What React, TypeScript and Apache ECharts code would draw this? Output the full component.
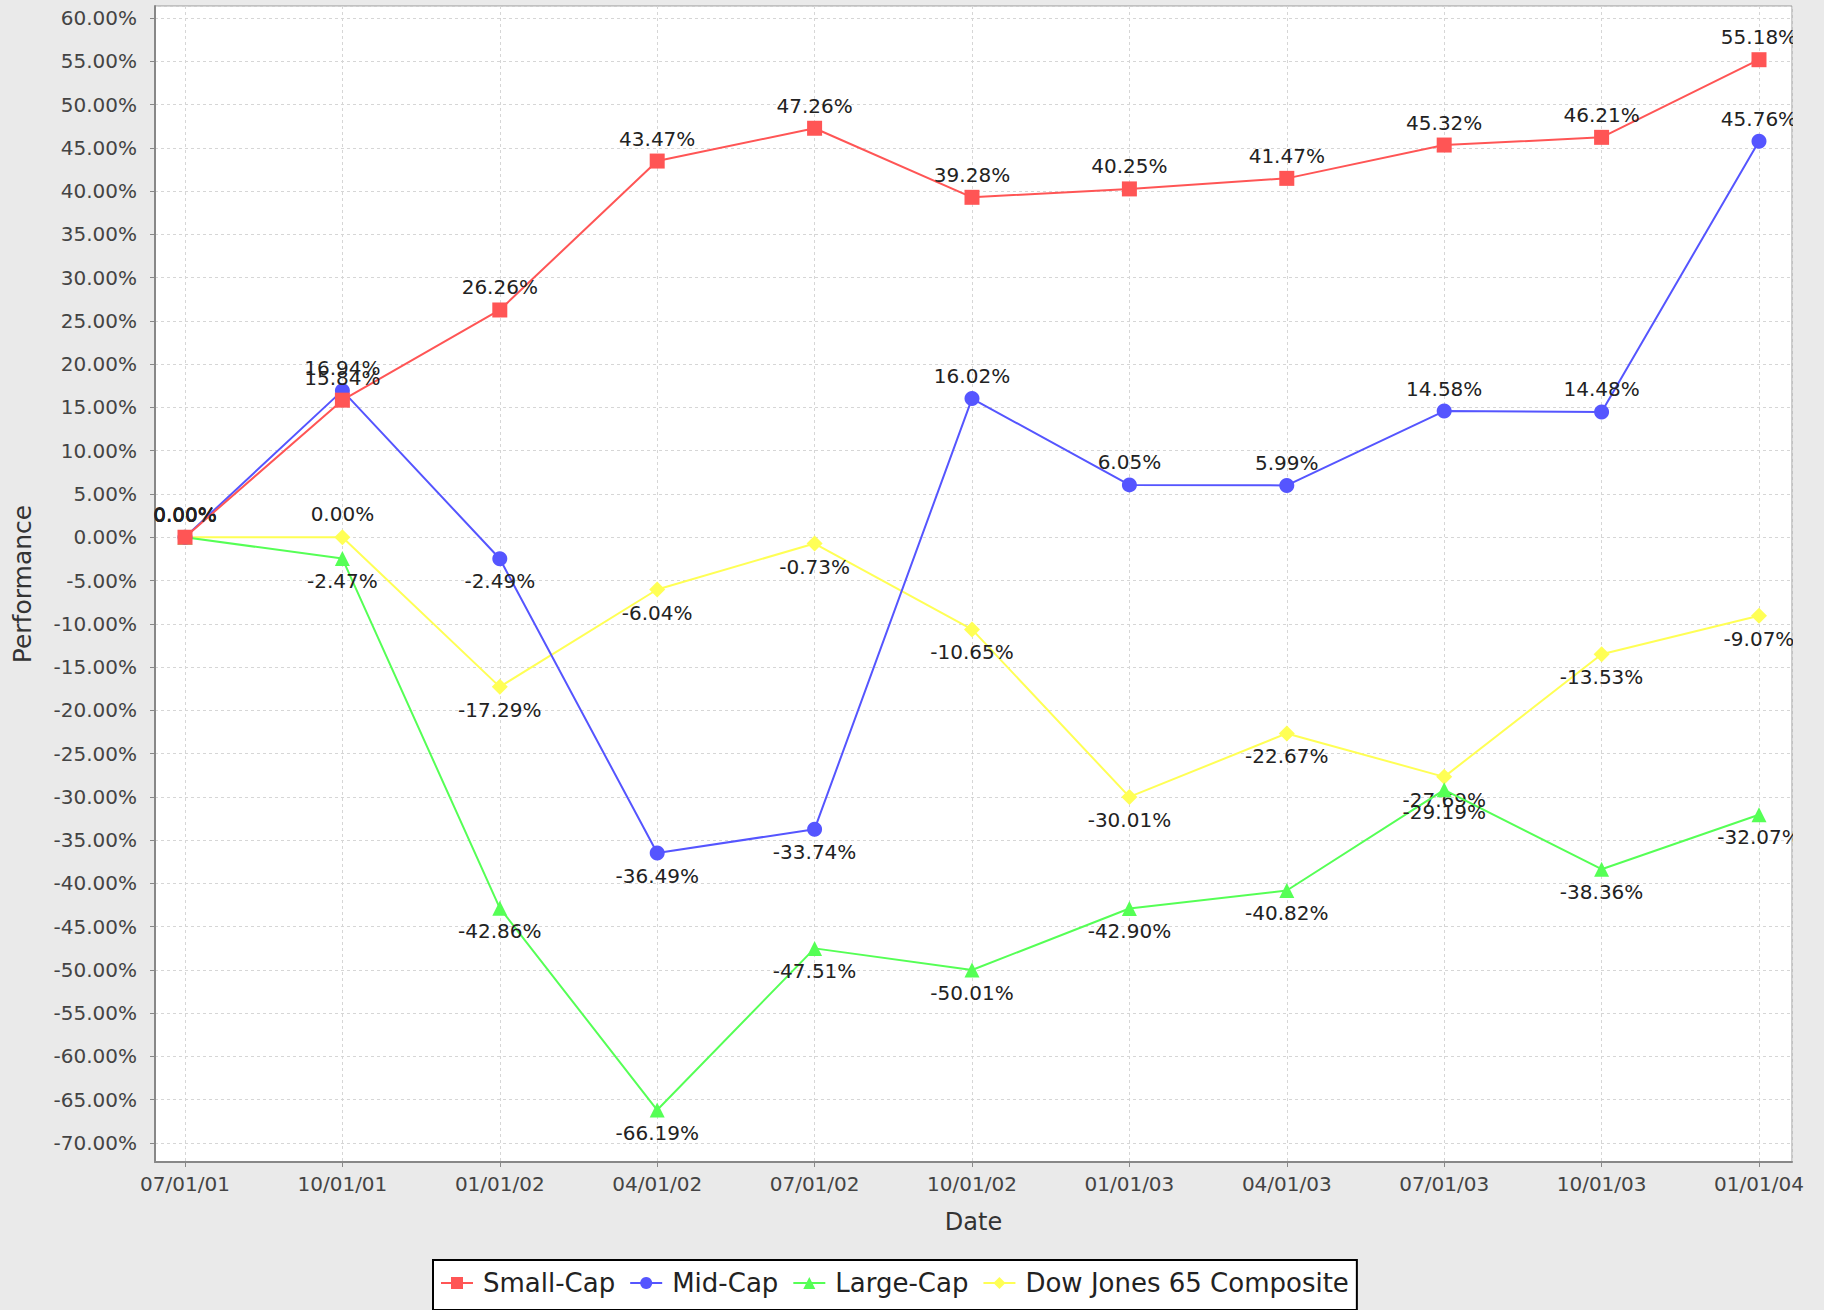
import React, { useEffect, useRef } from "react";
import * as echarts from "echarts";

const dates = ["07/01/01", "10/01/01", "01/01/02", "04/01/02", "07/01/02", "10/01/02", "01/01/03", "04/01/03", "07/01/03", "10/01/03", "01/01/04"];
const smallCap = [0.0, 15.84, 26.26, 43.47, 47.26, 39.28, 40.25, 41.47, 45.32, 46.21, 55.18];
const midCap = [0.0, 16.94, -2.49, -36.49, -33.74, 16.02, 6.05, 5.99, 14.58, 14.48, 45.76];
const largeCap = [0.0, -2.47, -42.86, -66.19, -47.51, -50.01, -42.9, -40.82, -29.19, -38.36, -32.07];
const dowJones = [0.0, 0.0, -17.29, -6.04, -0.73, -10.65, -30.01, -22.67, -27.69, -13.53, -9.07];
const seriesNames = ["Small-Cap", "Mid-Cap", "Large-Cap", "Dow Jones 65 Composite"];

const FONT = "DejaVu Sans";
const BG = "#EAEAEA";

export default function App() {
  const ref = useRef<HTMLDivElement>(null);
  useEffect(() => {
    document.body.style.margin = "0";
    const chart = echarts.init(ref.current!, null, { renderer: "svg" });
    const mk = (name: string, values: number[], color: string, symbol: string, size: number, z: number) => ({
      type: "line",
      name,
      z,
      data: values.map((v, i) => ({ value: [i, v], label: { position: v >= 0 ? "top" : "bottom" } })),
      symbol,
      symbolSize: size,
      showAllSymbol: true,
      lineStyle: { color, width: 2 },
      itemStyle: { color },
      label: {
        show: true,
        formatter: (p: any) => p.value[1].toFixed(2) + "%",
        fontSize: 20,
        fontFamily: FONT,
        color: "#222",
        distance: 5,
      },
      emphasis: { disabled: true },
    });
    chart.setOption({
      animation: false,
      backgroundColor: BG,
      textStyle: { fontFamily: FONT },
      grid: {
        left: 155,
        right: 32,
        top: 6,
        bottom: 148,
        show: true,
        backgroundColor: "#FFFFFF",
        borderColor: "#999999",
        borderWidth: 1,
      },
      xAxis: {
        type: "value",
        min: -0.1906,
        max: 10.2097,
        minInterval: 1,
        maxInterval: 1,
        splitNumber: 10,
        name: "Date",
        nameLocation: "middle",
        nameGap: 48,
        nameTextStyle: { fontSize: 24, color: "#333", fontFamily: FONT },
        axisLine: { show: true, onZero: false, lineStyle: { color: "#888", width: 2 } },
        axisTick: { show: true, length: 5, lineStyle: { color: "#888" } },
        axisLabel: {
          fontSize: 20,
          color: "#444",
          fontFamily: FONT,
          margin: 12,
          showMinLabel: false,
          showMaxLabel: false,
          formatter: (v: number) => {
            const r = Math.round(v);
            return Math.abs(v - r) < 1e-6 && dates[r] ? dates[r] : "";
          },
        },
        splitLine: { show: true, lineStyle: { color: "#D6D6D6", type: [3, 3], width: 1 } },
      },
      yAxis: {
        type: "value",
        min: -72.195,
        max: 61.387,
        minInterval: 5,
        maxInterval: 5,
        splitNumber: 26,
        name: "Performance",
        nameLocation: "middle",
        nameGap: 120,
        nameTextStyle: { fontSize: 25, color: "#333", fontFamily: FONT },
        axisLine: { show: true, onZero: false, lineStyle: { color: "#888", width: 2 } },
        axisTick: { show: true, length: 5, lineStyle: { color: "#888" } },
        axisLabel: {
          fontSize: 20,
          color: "#444",
          fontFamily: FONT,
          margin: 18,
          showMinLabel: false,
          showMaxLabel: false,
          formatter: (v: number) => {
            const r = Math.round(v / 5) * 5;
            return Math.abs(v - r) < 1e-6 ? r.toFixed(2) + "%" : "";
          },
        },
        splitLine: { show: true, lineStyle: { color: "#D6D6D6", type: [3, 3], width: 1 } },
      },
      legend: {
        data: seriesNames,
        left: 433,
        top: 1260,
        orient: "horizontal",
        backgroundColor: "#FFFFFF",
        borderColor: "#000000",
        borderWidth: 2,
        borderRadius: 0,
        padding: [10, 8, 14, 7],
        itemWidth: 32,
        itemHeight: 15,
        itemGap: 14,
        textStyle: { fontSize: 26, fontFamily: FONT, color: "#222", padding: [0, 0, 0, 5] },
      },
      graphic: [
        {
          type: "rect",
          z: 100,
          shape: { x: 1793, y: 0, width: 40, height: 1163 },
          style: { fill: BG },
        },
      ],
      series: [
        mk(seriesNames[3], dowJones, "#FFFF55", "diamond", 16, 2),
        mk(seriesNames[2], largeCap, "#55FF55", "triangle", 15, 3),
        mk(seriesNames[1], midCap, "#5555FF", "circle", 15, 4),
        mk(seriesNames[0], smallCap, "#FF5555", "rect", 15, 5),
      ],
    });
    return () => chart.dispose();
  }, []);
  return <div ref={ref} style={{ width: 1824, height: 1310 }} />;
}
